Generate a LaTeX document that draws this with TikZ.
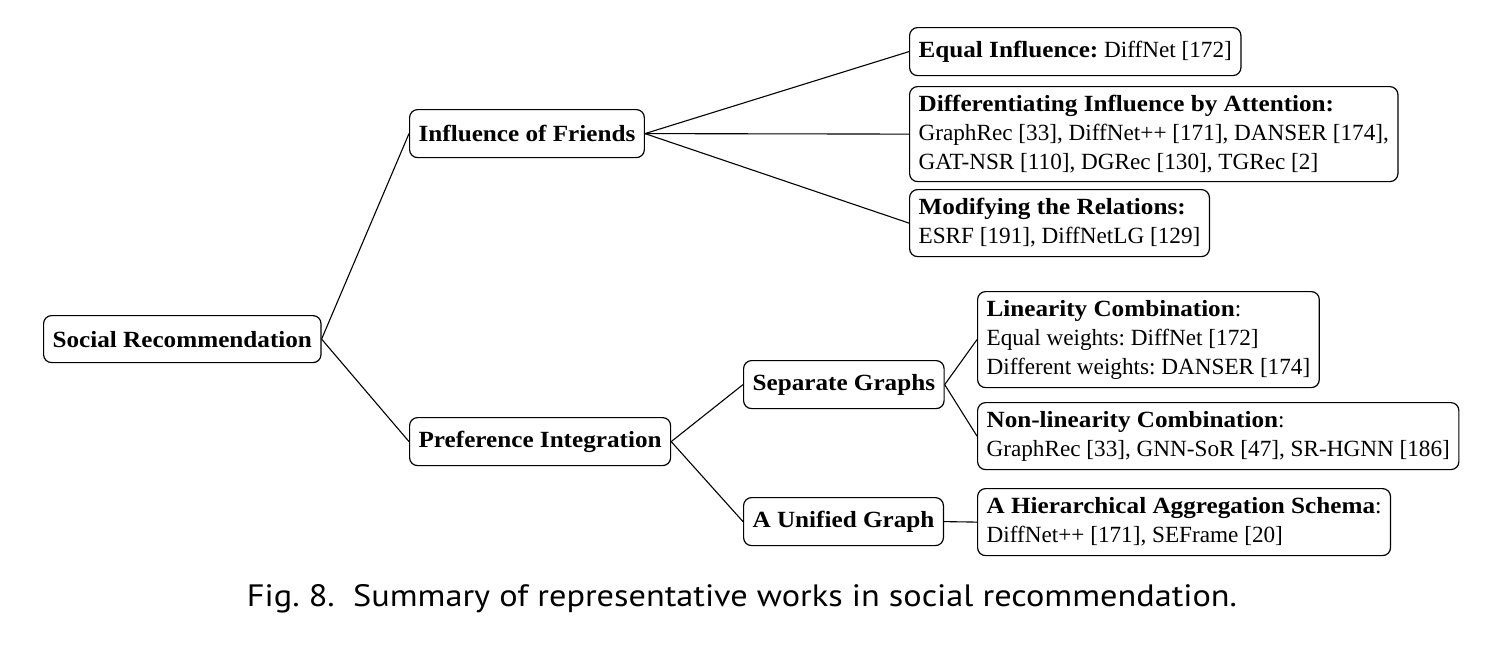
\documentclass[tikz,border=0pt]{standalone}
\usepackage{fontspec}
\setmainfont{Liberation Serif}[BoldFeatures={FakeStretch=1.085}]
\newfontfamily\capfont{PT Sans}
\begin{document}
\frenchspacing
\begin{tikzpicture}[x=0.5pt,y=-0.5pt,
  box/.style={draw, rounded corners=4pt, line width=0.6pt, align=left,
    inner xsep=4.5pt, inner ysep=0pt, anchor=north west,
    font=\fontsize{11.6}{14.5}\selectfont},
  bx/.style={box, minimum height=#1pt},
  conn/.style={line width=0.55pt}]
\useasboundingbox (0,0) rectangle (1490,649);
\node[bx=23.5] (soc) at (43,315) {\textbf{Social Recommendation}};
\node[bx=24] (inf) at (409,109) {\textbf{Influence of Friends}};
\node[bx=24] (pref) at (409,417) {\textbf{Preference Integration}};
\node[bx=24] (eq) at (909,27) {\textbf{Equal Influence:} DiffNet [172]};
\node[bx=47.5] (diff) at (909,86) {\textbf{Differentiating Influence by Attention:}\\GraphRec [33], DiffNet++ [171], DANSER [174],\\GAT-NSR [110], DGRec [130], TGRec [2]};
\node[bx=33.5] (mod) at (909,189) {\textbf{Modifying the Relations:}\\ESRF [191], DiffNetLG [129]};
\node[bx=24] (sep) at (743,360) {\textbf{Separate Graphs}};
\node[bx=24] (uni) at (743,497) {\textbf{A Unified Graph}};
\node[bx=48] (lin) at (977,291) {\textbf{Linearity Combination}:\\Equal weights: DiffNet [172]\\Different weights: DANSER [174]};
\node[bx=33.5] (non) at (977,402) {\textbf{Non-linearity Combination}:\\GraphRec [33], GNN-SoR [47], SR-HGNN [186]};
\node[bx=33.5] (hier) at (977,488) {\textbf{A Hierarchical Aggregation Schema}:\\DiffNet++ [171], SEFrame [20]};
\draw[conn] (soc.east) -- (inf.west);
\draw[conn] (soc.east) -- (pref.west);
\draw[conn] (inf.east) -- (eq.west);
\draw[conn] (inf.east) -- (diff.west);
\draw[conn] (inf.east) -- (mod.west);
\draw[conn] (pref.east) -- (sep.west);
\draw[conn] (pref.east) -- (uni.west);
\draw[conn] (sep.east) -- (lin.west);
\draw[conn] (sep.east) -- (non.west);
\draw[conn] (uni.east) -- (hier.west);
\node[anchor=base, inner sep=0pt] (cap) at (742,606) {\resizebox{495pt}{11pt}{\capfont Fig. 8.\ \ Summary of representative works in social recommendation.}};
\end{tikzpicture}
\end{document}
